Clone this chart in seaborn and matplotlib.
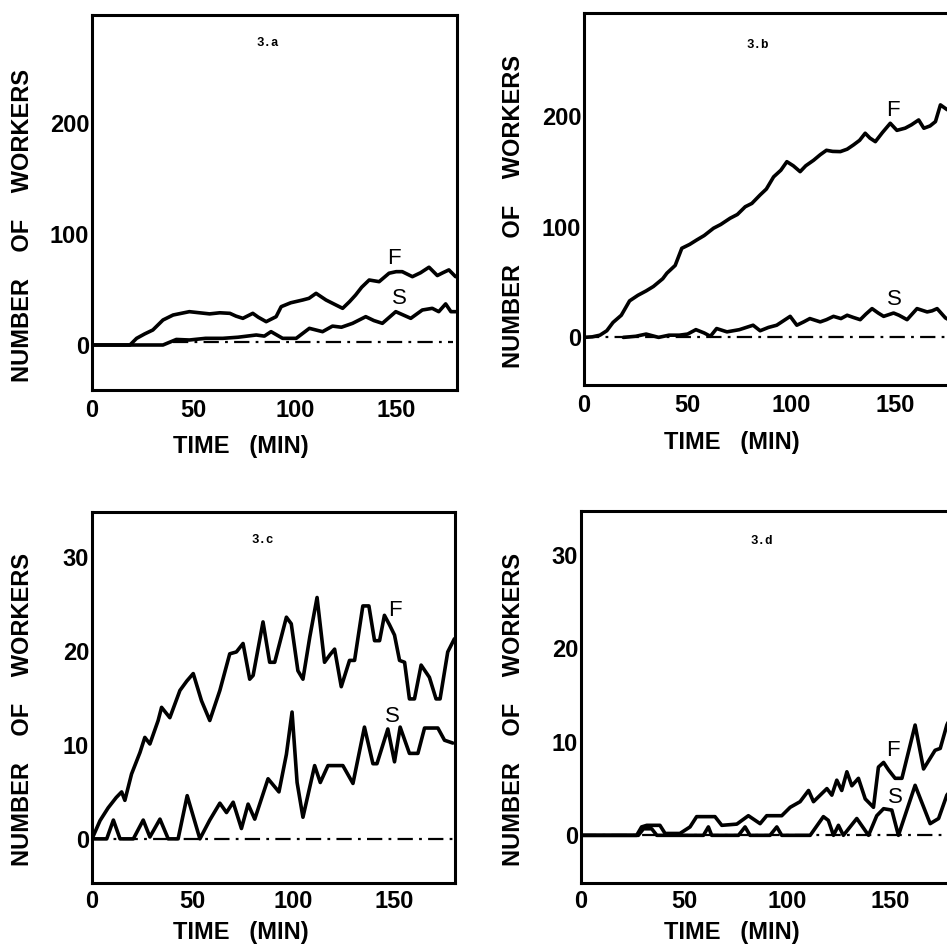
import numpy as np
import pandas as pd
import matplotlib
matplotlib.use("Agg")
import matplotlib.pyplot as plt
import seaborn as sns

sns.set_style("white")
plt.rcParams['font.family'] = ['Liberation Sans', 'DejaVu Sans']
plt.rcParams['lines.scale_dashes'] = False
plt.rcParams['text.color'] = 'black'
plt.rcParams['axes.labelcolor'] = 'black'
plt.rcParams['xtick.color'] = 'black'
plt.rcParams['ytick.color'] = 'black'

# ---------------- data (time in min, number of workers) ----------------
a_F_t = [0, 18.7, 22, 26, 30, 35, 40, 44, 48, 53, 58, 63, 68, 71, 74.4, 79.3, 82, 85.9, 90.8, 93.3,
         98, 103.9, 107, 110.5, 115.4, 120.3, 123.6, 127, 130, 133, 136.7, 141.6, 146.5, 150, 153,
         158, 162, 166.2, 170.3, 173, 176, 179.3]
a_F_v = [0, 0, 6, 10, 13.5, 22.5, 27, 28.5, 30, 29, 28, 29, 28.5, 26, 24, 28.5, 25, 21, 25.5, 34.5,
         38, 40.5, 42, 46.5, 40.5, 36, 33, 39, 45, 52, 58.5, 57, 64.6, 66, 66, 61.5, 65, 70, 62.5,
         65, 67.6, 61.5]

a_S_t = [0, 35, 41.6, 48, 56, 64.5, 72, 81, 85, 88.3, 94, 100.7, 107.2, 113.7, 118.6, 123, 128.5,
         135, 139, 143.2, 149.8, 157.2, 162.9, 167.8, 171, 174.4, 177, 179.3]
a_S_v = [0, 0, 5, 4.5, 6, 6, 7, 9, 8, 12, 6, 6, 15, 12, 17, 16, 19.5, 25.5, 22, 19.5, 30, 24, 31.5,
         33, 30, 37, 30, 30]

b_F_t = [0, 4, 7.7, 11, 14, 18, 22, 26, 30, 33.5, 38, 40, 44, 47.2, 51, 54.4, 58, 62.5, 66, 70.5,
         74, 77.8, 81, 85, 88, 91.5, 95, 97.9, 101, 104.3, 107, 110.8, 114, 117, 120, 123.7, 127,
         130, 133, 135.7, 138, 140.6, 144, 147.8, 151, 155, 158, 161.5, 164, 167, 169.6, 172, 175,
         178, 180]
b_F_v = [0, 0.5, 2, 6, 13.5, 20, 33, 38, 42, 46, 53, 58, 65, 80.5, 84, 88, 92, 98.6, 102, 107.6,
         111, 118, 121, 128.7, 134, 145, 151, 158.7, 155, 149.7, 155, 160, 165, 169, 168, 167.8,
         170, 173.8, 178, 184.4, 180, 176.8, 185, 193.4, 187, 189, 192, 196.4, 188.9, 191, 194.9,
         210, 206, 203, 205]

b_S_t = [19, 25, 30, 36, 41, 46, 50, 54, 58, 61, 64, 69, 75, 81.6, 85, 89, 93, 99.5, 102.7, 106,
         109, 114, 117, 120.4, 124, 127, 130, 133.3, 136, 139, 142, 144.6, 149.4, 152, 155.9,
         160.7, 165.6, 168, 170.4, 174.4, 177, 180]
b_S_v = [0, 1, 3, 0, 2, 2, 3, 7, 4, 1, 8, 5, 7, 11, 6, 9, 11, 19, 11, 14, 17, 14, 16, 19, 17, 20,
         18, 16, 21, 26, 22, 19, 22, 20, 16, 26, 23, 24, 26, 17.6, 15, 14]

c_F_t = [0, 4, 8, 12, 14.7, 16.3, 19.6, 23.8, 26.2, 28.7, 32.8, 34.5, 38.6, 43.6, 47, 50.2, 54.3,
         58.4, 63.4, 68.3, 71.6, 74.9, 78.2, 79.9, 84.8, 88.1, 90.6, 96.4, 98.8, 102.1, 104.6, 108,
         111.6, 115.3, 118, 120.3, 123.6, 127.7, 130.2, 134.3, 137.3, 140.1, 142.6, 145, 147.5,
         150, 152.5, 155, 157.4, 159.9, 163.2, 167.3, 170.6, 172.6, 176.4, 179.7]
c_F_v = [0, 1.95, 3.3, 4.4, 5, 4.1, 6.9, 9.2, 10.8, 10.1, 12.6, 14, 12.9, 15.8, 16.8, 17.6, 14.7,
         12.6, 15.8, 19.7, 19.9, 20.8, 17, 17.4, 23.1, 18.8, 18.8, 23.6, 22.9, 17.9, 17, 21.5,
         25.7, 18.8, 19.6, 20.2, 16.2, 19, 19, 24.8, 24.8, 21.1, 21.1, 23.8, 22.8, 21.7, 19, 18.8,
         14.9, 14.9, 18.5, 17.2, 14.9, 14.9, 19.9, 21.3]

c_S_t = [0, 7.3, 10.6, 13.9, 20.5, 25.4, 28.7, 33.7, 37.8, 42.7, 47.2, 53.5, 58.4, 63.4, 66.7, 70,
         74.1, 77.4, 80.7, 87.3, 92.7, 96.4, 99.2, 101.7, 104.6, 110.4, 113.2, 117, 124.4, 129.4,
         135.1, 139.3, 141.3, 146.7, 150, 152.8, 157.4, 161.6, 164.9, 171.5, 174.8, 178.9]
c_S_v = [0, 0, 2, 0, 0, 2, 0.2, 2.1, 0, 0, 4.6, 0, 2, 3.8, 2.8, 3.9, 1.1, 3.7, 2.1, 6.4, 5, 9,
         13.5, 6, 2.3, 7.8, 6, 7.8, 7.8, 5.9, 11.9, 8, 8, 11.7, 8.2, 11.9, 9.1, 9.1, 11.8, 11.8,
         10.5, 10.2]

d_F_t = [0, 27, 29.4, 31.9, 38.3, 40.8, 48, 52.9, 56.1, 65, 68.3, 75.6, 81.2, 86.9, 90.1, 97.4,
         101.5, 106.3, 110.4, 112.8, 119.3, 121.7, 124.1, 126.5, 129, 131.4, 134.6, 137.9, 141.9,
         144.3, 146.8, 149.2, 152.4, 155.7, 162.1, 166.2, 171.8, 174.3, 177.5, 180]
d_F_v = [0, 0, 0.9, 1.07, 1.07, 0.2, 0.2, 0.9, 2, 2, 1.07, 1.2, 2.1, 1.25, 2.1, 2.1, 3, 3.6, 4.8,
         3.6, 5, 4.3, 5.9, 4.8, 6.8, 5.3, 6.1, 3.9, 3, 7.3, 7.8, 7, 6.1, 6.1, 11.8, 7.1, 9.1, 9.3,
         11.8, 13]

d_S_t = [0, 27.8, 30.3, 34.3, 36.8, 48, 59.4, 61.8, 63.4, 76.4, 79.6, 82, 91.7, 95, 97.4, 111.2,
         117.6, 120, 122.5, 124.9, 127.3, 133.8, 139.5, 143.5, 146.8, 150.8, 154, 162.1, 169.4,
         173.5, 177.5, 180]
d_S_v = [0, 0, 0.7, 0.7, 0, 0, 0, 0.9, 0, 0, 0.9, 0, 0, 0.9, 0, 0, 2, 1.6, 0, 1.07, 0, 1.8, 0,
         2.1, 2.85, 2.7, 0, 5.35, 1.25, 1.8, 4.3, 5]

panel_names = ["3.a", "3.b", "3.c", "3.d"]
y_ticks = [[0, 100, 200], [0, 100, 200], [0, 10, 20, 30], [0, 10, 20, 30]]
x_ticks = [0, 50, 100, 150]
baseline_level = [3, 0, 0, 0]
baseline_span = [(40, 178), (0, 180), (0, 180), (0, 180)]

# label anchor positions (data coordinates)
title_pos = [(86.5, 272), (84, 264), (84.6, 31.8), (87.7, 31.5)]
F_pos = [(149, 78), (149, 205), (150, 24.3), (151.5, 9.1)]
S_pos = [(151.5, 42), (150, 34), (149, 13), (152.4, 4.1)]

series = [(a_F_t, a_F_v, a_S_t, a_S_v), (b_F_t, b_F_v, b_S_t, b_S_v),
          (c_F_t, c_F_v, c_S_t, c_S_v), (d_F_t, d_F_v, d_S_t, d_S_v)]

# ---------------- layout ----------------
W, H = 947, 949
fig = plt.figure(figsize=(W / 100, H / 100), dpi=100)

def px_axes(left, top, right, bottom):
    return [left / W, 1 - bottom / H, (right - left) / W, (bottom - top) / H]

positions = [px_axes(92, 15, 457, 390), px_axes(584, 13, 957, 385),
             px_axes(92, 512, 455, 883), px_axes(581, 511, 952, 883)]
ylims = [(-40.5, 297), (-43, 293), (-4.7, 34.8), (-5.1, 34.7)]
xlab_pos = [(241 / W, 1 - 447 / H), (732 / W, 1 - 442 / H),
            (241 / W, 1 - 933 / H), (732 / W, 1 - 933 / H)]
ylab_pos = [(23 / W, 1 - 226 / H), (513 / W, 1 - 212 / H),
            (23 / W, 1 - 709 / H), (513 / W, 1 - 710 / H)]
xpads = [6.5, 6.5, 5, 5]

for i in range(4):
    ax = fig.add_axes(positions[i])
    Ft, Fv, St, Sv = series[i]
    dF = pd.DataFrame({"t": Ft, "v": Fv})
    dS = pd.DataFrame({"t": St, "v": Sv})
    ax.hlines(baseline_level[i], baseline_span[i][0], baseline_span[i][1], colors="black",
              linewidth=1.6, linestyles=[(0, (11, 4.5, 2, 4.5))], zorder=1)
    sns.lineplot(data=dF, x="t", y="v", ax=ax, color="black", linewidth=2.6,
                 estimator=None, sort=False, zorder=3)
    sns.lineplot(data=dS, x="t", y="v", ax=ax, color="black", linewidth=2.6,
                 estimator=None, sort=False, zorder=3)
    ax.set_xlim(0, 180)
    ax.set_ylim(*ylims[i])
    ax.set_xticks(x_ticks)
    ax.set_yticks(y_ticks[i])
    ax.set_xlabel("")
    ax.set_ylabel("")
    for s in ax.spines.values():
        s.set_visible(True)
        s.set_linewidth(2.2)
        s.set_color("black")
    ax.tick_params(axis="both", direction="in", length=9, width=2, colors="black",
                   labelsize=17)
    ax.tick_params(axis="y", pad=2)
    ax.tick_params(axis="x", pad=xpads[i])
    for lab in ax.get_xticklabels() + ax.get_yticklabels():
        lab.set_fontweight("bold")
        lab.set_color("black")
    ax.text(*title_pos[i], panel_names[i], ha="center", va="center", fontsize=9,
            fontweight="bold", color="black",
            family=["Liberation Mono", "DejaVu Sans Mono"])
    ax.text(*F_pos[i], "F", ha="center", va="center", fontsize=16, color="black")
    ax.text(*S_pos[i], "S", ha="center", va="center", fontsize=16, color="black")
    fig.text(*xlab_pos[i], "TIME   (MIN)", ha="center", va="center", fontsize=17,
             fontweight="bold", color="black")
    fig.text(*ylab_pos[i], "NUMBER    OF    WORKERS", ha="center", va="center",
             rotation=90, fontsize=17, fontweight="bold", color="black")

fig.savefig("out.png", dpi=100)
